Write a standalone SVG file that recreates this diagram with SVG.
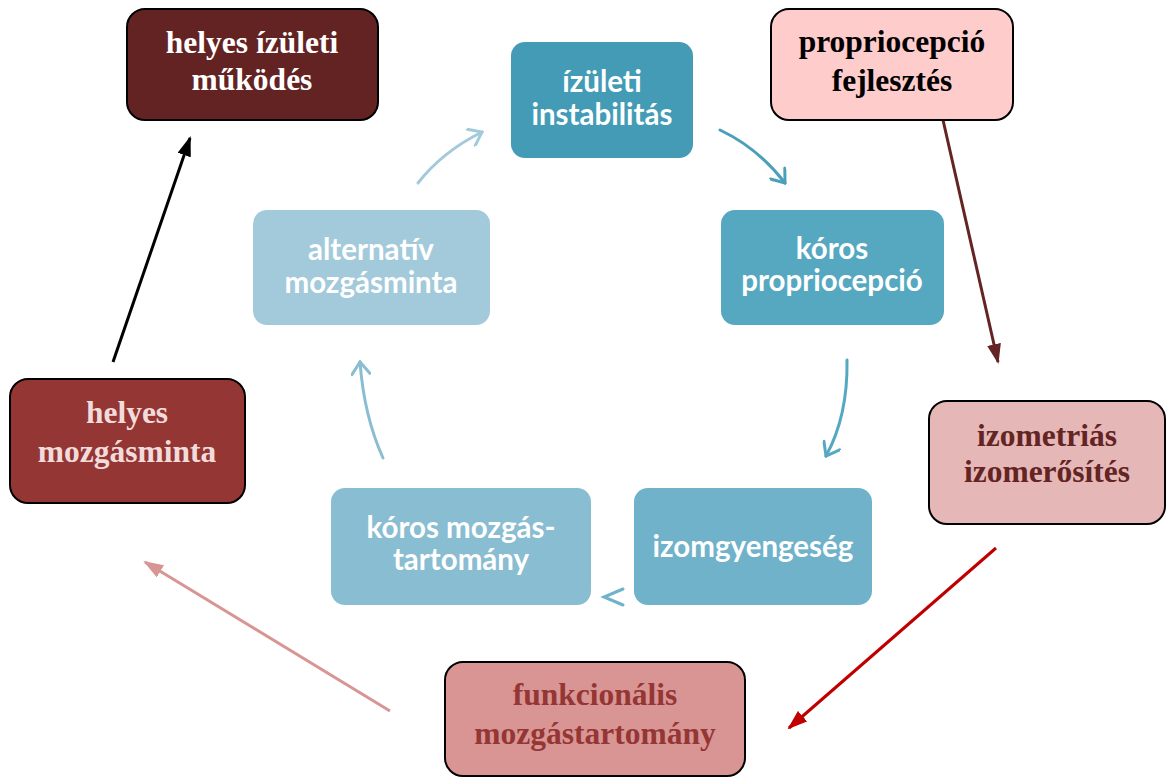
<svg xmlns="http://www.w3.org/2000/svg" width="1166" height="778" viewBox="0 0 1166 778">
<style>
.tb{font-family:"Lato","Open Sans","Liberation Sans",sans-serif;font-weight:bold;font-size:29.5px;fill:#fff;text-anchor:middle}
.sb{font-family:"Liberation Serif","Times New Roman",serif;font-weight:bold;font-size:31.5px;text-anchor:middle}
.bx{stroke:#000;stroke-width:2}
.cyc{fill:none;stroke-width:3;stroke-linecap:round}
.ln{fill:none;stroke-width:3}
</style>
<defs>
<marker id="chev" viewBox="-14 -10 16 20" markerWidth="16" markerHeight="20" refX="0" refY="0" orient="auto" markerUnits="userSpaceOnUse">
<path d="M-12,-9 L0,0 L-12,9" fill="none" stroke="context-stroke" stroke-width="3" stroke-linecap="round"/>
</marker>
<marker id="hBlack" viewBox="0 0 20 14" markerWidth="20" markerHeight="14" refX="18" refY="7" orient="auto" markerUnits="userSpaceOnUse"><path d="M0,0 L20,7 L0,14 z" fill="#000"/></marker>
<marker id="hDark" viewBox="0 0 20 14" markerWidth="20" markerHeight="14" refX="18" refY="7" orient="auto" markerUnits="userSpaceOnUse"><path d="M0,0 L20,7 L0,14 z" fill="#632423"/></marker>
<marker id="hRed" viewBox="0 0 20 14" markerWidth="20" markerHeight="14" refX="18" refY="7" orient="auto" markerUnits="userSpaceOnUse"><path d="M0,0 L20,7 L0,14 z" fill="#c00000"/></marker>
<marker id="hPink" viewBox="0 0 20 14" markerWidth="20" markerHeight="14" refX="18" refY="7" orient="auto" markerUnits="userSpaceOnUse"><path d="M0,0 L20,7 L0,14 z" fill="#d99594"/></marker>
</defs>
<rect width="1166" height="778" fill="#fff"/>

<g id="connectors">
<path class="cyc" d="M418,183 Q442,152 482,132" stroke="#a3cadb" marker-end="url(#chev)"/>
<path class="cyc" d="M720,130 Q758,148 785,183" stroke="#4aa0b9" marker-end="url(#chev)"/>
<path class="cyc" d="M847,360 Q848,416 826,456" stroke="#56a8c0" marker-end="url(#chev)"/>
<path class="cyc" d="M623,589 L604,597 L623,605" stroke="#6fb2c9"/>
<path class="cyc" d="M383,458 Q364,416 360,362" stroke="#89bdd1" marker-end="url(#chev)"/>
<line class="ln" x1="113" y1="362" x2="190" y2="138" stroke="#000" marker-end="url(#hBlack)"/>
<line class="ln" x1="943" y1="120" x2="998" y2="362" stroke="#632423" marker-end="url(#hDark)"/>
<line class="ln" x1="996" y1="548" x2="789" y2="728" stroke="#c00000" marker-end="url(#hRed)"/>
<line class="ln" x1="390" y1="711" x2="145" y2="562" stroke="#d99594" marker-end="url(#hPink)"/>
</g>

<g id="n-izuleti-instabilitas">
<rect x="511" y="42" width="182" height="116" rx="14" fill="#439bb5"/>
<text class="tb" x="602" y="92">ízületi</text>
<text class="tb" x="602" y="125">instabilitás</text>
</g>
<g id="n-koros-propriocepcio">
<rect x="721" y="210" width="223" height="115" rx="14" fill="#56a8c0"/>
<text class="tb" x="832" y="259">kóros</text>
<text class="tb" x="832" y="291">propriocepció</text>
</g>
<g id="n-izomgyengeseg">
<rect x="634" y="488" width="238" height="117" rx="14" fill="#6fb2c9"/>
<text class="tb" x="753" y="557">izomgyengeség</text>
</g>
<g id="n-koros-mozgastartomany">
<rect x="331" y="488" width="260" height="117" rx="14" fill="#89bdd1"/>
<text class="tb" x="461" y="538">kóros mozgás-</text>
<text class="tb" x="461" y="570">tartomány</text>
</g>
<g id="n-alternativ-mozgasminta">
<rect x="253" y="210" width="237" height="115" rx="14" fill="#a3cadb"/>
<text class="tb" x="371" y="260">alternatív</text>
<text class="tb" x="371" y="293">mozgásminta</text>
</g>

<g id="n-helyes-izuleti-mukodes">
<rect class="bx" x="127" y="9" width="251" height="111" rx="18" fill="#632323"/>
<text class="sb" x="252" y="53" fill="#fff">helyes ízületi</text>
<text class="sb" x="252" y="90" fill="#fff">működés</text>
</g>
<g id="n-propriocepcio-fejlesztes">
<rect class="bx" x="771" y="9" width="242" height="111" rx="18" fill="#ffcccc"/>
<text class="sb" x="892" y="52" fill="#000">propriocepció</text>
<text class="sb" x="892" y="91" fill="#000">fejlesztés</text>
</g>
<g id="n-helyes-mozgasminta">
<rect class="bx" x="10" y="379" width="235" height="124" rx="18" fill="#943634"/>
<text class="sb" x="127" y="423" fill="#f2dbdb">helyes</text>
<text class="sb" x="127" y="462" fill="#f2dbdb">mozgásminta</text>
</g>
<g id="n-izometrias-izomerosites">
<rect class="bx" x="929" y="401" width="236" height="123" rx="18" fill="#e5b8b7"/>
<text class="sb" x="1047" y="446" fill="#632423">izometriás</text>
<text class="sb" x="1047" y="482" fill="#632423">izomerősítés</text>
</g>
<g id="n-funkcionalis-mozgastartomany">
<rect class="bx" x="445" y="662" width="300" height="114" rx="18" fill="#d99594"/>
<text class="sb" x="595" y="705" fill="#943634">funkcionális</text>
<text class="sb" x="595" y="744" fill="#943634">mozgástartomány</text>
</g>
</svg>
